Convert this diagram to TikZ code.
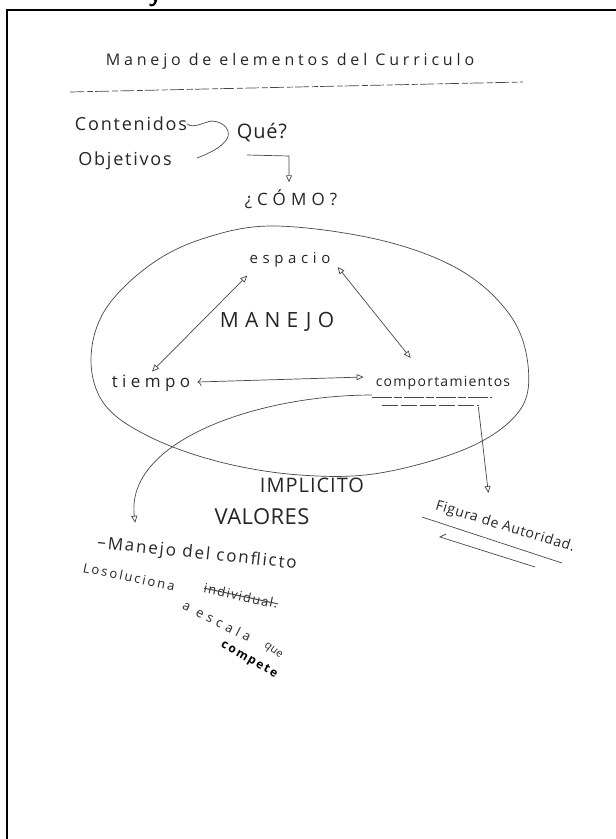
\documentclass[tikz,border=0pt]{standalone}
\usepackage{fontspec}
\newfontfamily\hand{Open Sans}
\usetikzlibrary{arrows.meta,calc}
% size and letter spacing of the pen lettering
\newcommand\pen[2]{\hand\fontsize{#1}{#1}\selectfont\addfontfeature{LetterSpace=#2}}

\begin{document}
\begin{tikzpicture}[x=1pt,y=-1pt,
  ink/.style={draw=black!72, line width=0.7pt},
  txt/.style={text=black!85, inner sep=0pt},
  open/.tip={Triangle[open,length=7pt,width=6pt]},
  tip/.style={-open},
  both/.style={open-open},
]
\fill[white] (0,0) rectangle (616,839);
\useasboundingbox (0,0) rectangle (616,839);

% page frame (left and top edges only)
\draw[line width=2pt, line join=miter] (7,839) -- (7,10) -- (616,10);

% tail of a heading letter above the frame
\begin{scope}
  \clip (0,0) rectangle (616,9);
  \node[font=\sffamily\bfseries\fontsize{26}{26}\selectfont, anchor=base, inner sep=0pt] (frag) at (155,1) {y};
\end{scope}

% heading
\node[txt, font=\pen{16}{24}] (title) at (290,61) {Manejo de elementos del Curriculo};
\draw[ink, dash pattern=on 14pt off 3pt on 6pt off 2pt] (70,92) -- (523,82);

% what / how
\node[txt, font=\pen{18}{10}] (cont) at (131,124) {Contenidos};
\node[txt, font=\pen{18}{10}] (obj) at (125,161) {Objetivos};
\node[txt, font=\pen{20}{4}] (que) at (262,133) {Qué?};
\node[txt, font=\pen{17}{30}] (como) at (291,199) {¿CÓMO?};

\coordinate (brk) at (197,158);
\draw[ink] (cont.east) .. controls +(6,5) and (204,122) .. (212,121)
  .. controls (226,122) and (231,132) .. (227,139)
  .. controls (222,147) and (210,153) .. (brk);
\coordinate (qs) at (247,155);
\draw[ink, tip] (qs) -- (289,156) -- ($(como.north)+(-2,-7)$);

% the circle of "manejo"
\draw[ink] plot[smooth cycle, tension=0.6] coordinates {
  (275,226) (380,240) (460,270) (510,315) (528,365) (520,410) (470,447)
  (380,473) (300,475) (220,462) (150,437) (105,405) (91,360) (105,310)
  (150,265) (205,238)};

\node[txt, font=\pen{15}{31}] (esp) at (290,260) {espacio};
\node[txt, font=\pen{21}{30}] (man) at (277,322) {MANEJO};
\node[txt, font=\pen{17}{26}] (tie) at (151,383) {tiempo};
\node[txt, font=\pen{14}{9}] (comp) at (443,383) {comportamientos};

\draw[ink, both] ($(tie.north)+(1,-3)$) -- ($(esp.south west)+(-2,8)$);
\draw[ink, both] ($(esp.east)+(7,7)$) -- ($(comp.north west)+(35,-18)$);
\draw[ink, {To[length=4pt]}-open] ($(tie.east)+(7,-1)$) -- ($(comp.west)+(-12,-6)$);

\draw[ink, dash pattern=on 20pt off 2pt on 8pt off 2pt] ($(comp.south west)+(-4,7)$) -- ++(120,0);
\draw[ink, dash pattern=on 16pt off 3pt] ($(comp.south west)+(6,15)$) -- ++(97,0);

% below the circle
\node[txt, font=\pen{20}{5}] (impl) at (312,485) {IMPLICITO};
\node[txt, font=\pen{22}{2}] (val) at (262,517) {VALORES};

\node[txt, font=\pen{14}{5}, rotate=-17] (fig) at (505,527) {Figura de Autoridad.};
\draw[ink] (422,517) -- (562,563);
\draw[ink] (446,534) -- (440,537) -- (535,567);

\node[txt, font=\pen{17}{11}, rotate=-6] (conf) at (197,554) {–Manejo del conflicto};
\node[txt, font=\pen{13}{16}, rotate=-12] (sol) at (129,577) {Losoluciona};
\node[txt, font=\pen{13}{10}, rotate=-12] (ind) at (241,596) {individual.};
\draw[ink, line width=1pt] (ind.west) -- (ind.east);
\node[txt, font=\pen{13}{34}, rotate=-27] (esc) at (217,621) {a escala};
\node[txt, font=\pen{11}{4}, rotate=-38] (que2) at (273,651) {que};
\node[txt, text=black, font=\pen{12}{15}\bfseries, rotate=-30] (comp2) at (249,660) {compete};

% connectors leaving "comportamientos"
\draw[ink, tip] ($(comp.south west)+(-4,5)$) .. controls (260,395) and (125,440) .. ($(conf.north west)+(37,-12)$);
\draw[ink, tip] ($(comp.south east)+(-32,17)$) -- ($(comp.south east)+(-22,103)$);
\end{tikzpicture}
\end{document}
